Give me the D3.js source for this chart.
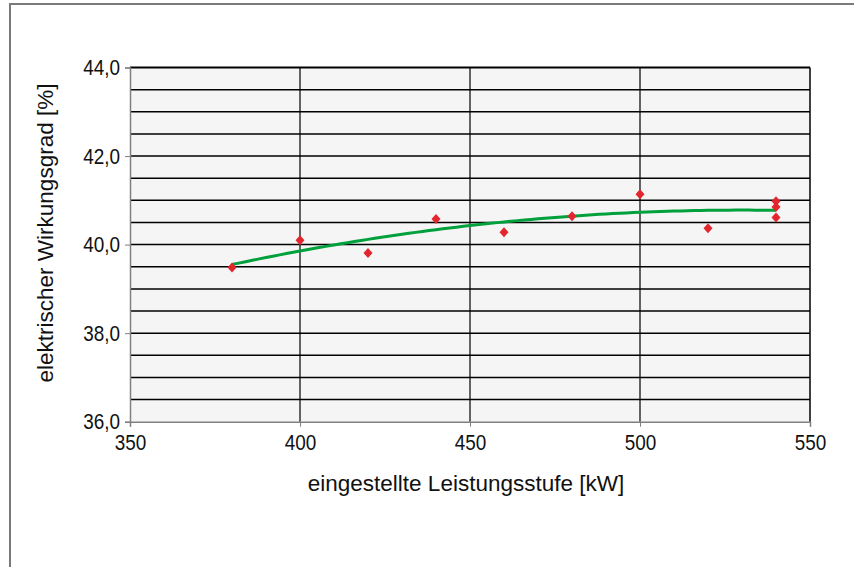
<!DOCTYPE html>
<html><head><meta charset="utf-8">
<script src="https://cdn.jsdelivr.net/npm/d3@7"></script>
<style>body{margin:0;background:#fff}svg{display:block}text{font-family:"Liberation Sans",Arial,sans-serif;fill:#111}
.ylab{transform-box:fill-box;transform-origin:right center;transform:scaleX(0.86)}
.xlab{transform-box:fill-box;transform-origin:center center;transform:scaleX(0.86)}</style>
</head><body>
<script>
const leistung = [380, 400, 420, 440, 460, 480, 500, 520, 540, 540, 540];
const wirkungsgrad = [39.48, 40.10, 39.81, 40.58, 40.28, 40.64, 41.14, 40.37, 40.98, 40.85, 40.61];
const xTicks = [350, 400, 450, 500, 550];
const yTicks = [36, 38, 40, 42, 44];
const yGrid = d3.range(36, 44.01, 0.5);

const W = 854, H = 567;
const svg = d3.select("body").append("svg").attr("width", W).attr("height", H);
const L = 130, R = 810, T = 67.5, B = 421.7;
const x = d3.scaleLinear().domain([350, 550]).range([L, R]);
const y = d3.scaleLinear().domain([36, 44]).range([B, T]);

// outer frame
svg.append("path").attr("d", `M10,${H+5}V4H${W+5}`).attr("fill","none").attr("stroke","#7a7a7a").attr("stroke-width",2);

svg.append("rect").attr("x", L).attr("y", T).attr("width", R-L).attr("height", B-T).attr("fill", "#f5f5f5");

// horizontal grid
svg.append("g").selectAll("line").data(yGrid.filter(v => v > 36)).join("line")
  .attr("x1", L).attr("x2", R).attr("y1", d => y(d)).attr("y2", d => y(d))
  .attr("stroke", "#000").attr("stroke-width", d => d === 44 ? 2 : 1.5);
// vertical grid
svg.append("g").selectAll("line").data(xTicks.filter(v => v > 350)).join("line")
  .attr("x1", d => x(d)).attr("x2", d => x(d)).attr("y1", T).attr("y2", B)
  .attr("stroke", "#000").attr("stroke-width", d => d === 550 ? 1.5 : 1.2);

// axes
const yAxis = d3.axisLeft(y).tickValues(yTicks).tickSize(5).tickPadding(5)
  .tickFormat(d => d3.format(".1f")(d).replace(".", ","));
const gy = svg.append("g").attr("transform", `translate(${L},0)`).call(yAxis);
gy.select(".domain").attr("stroke", "#808080").attr("stroke-width", 1.5);
gy.selectAll(".tick line").attr("stroke", "#808080");
gy.selectAll("text").attr("class", "ylab").style("font-size", "22px").style("font-family", '"Liberation Sans",Arial,sans-serif').attr("fill", "#111");

const xAxis = d3.axisBottom(x).tickValues(xTicks).tickSize(5).tickPadding(8).tickFormat(d3.format("d"));
const gx = svg.append("g").attr("transform", `translate(0,${B})`).call(xAxis);
gx.select(".domain").attr("stroke", "#808080").attr("stroke-width", 1.5);
gx.selectAll(".tick line").attr("stroke", "#808080");
gx.selectAll("text").attr("class", "xlab").style("font-size", "22px").style("font-family", '"Liberation Sans",Arial,sans-serif').attr("fill", "#111");

// quadratic least-squares trendline from the data
function quadFit(xs, ys) {
  let S = [0,0,0,0,0], Sy = [0,0,0];
  xs.forEach((xv, i) => { for (let k = 0; k < 5; k++) S[k] += Math.pow(xv, k); for (let k = 0; k < 3; k++) Sy[k] += Math.pow(xv, k) * ys[i]; });
  const M = [[S[0],S[1],S[2],Sy[0]],[S[1],S[2],S[3],Sy[1]],[S[2],S[3],S[4],Sy[2]]];
  for (let i = 0; i < 3; i++) { for (let j = i+1; j < 3; j++) { const f = M[j][i]/M[i][i]; for (let k = i; k < 4; k++) M[j][k] -= f*M[i][k]; } }
  const c = [0,0,0];
  for (let i = 2; i >= 0; i--) { let s = M[i][3]; for (let k = i+1; k < 3; k++) s -= M[i][k]*c[k]; c[i] = s/M[i][i]; }
  return c;
}
const us = leistung.map(v => (v - 460) / 20);
const coef = quadFit(us, wirkungsgrad);
const xs = d3.range(d3.min(leistung), d3.max(leistung) + 0.1, 2);
const curve = xs.map(v => { const u = (v - 460) / 20; return [v, coef[0] + coef[1]*u + coef[2]*u*u]; });
svg.append("path").datum(curve)
  .attr("d", d3.line().x(d => x(d[0])).y(d => y(d[1])))
  .attr("fill", "none").attr("stroke", "#00a03c").attr("stroke-width", 3);

// markers
svg.append("g").selectAll("path").data(leistung.map((v, i) => [v, wirkungsgrad[i]])).join("path")
  .attr("d", "M0,-5L4.5,0L0,5L-4.5,0Z")
  .attr("transform", d => `translate(${x(d[0])},${y(d[1])})`)
  .attr("fill", "#e3262e");

// titles
svg.append("text").attr("x", 466).attr("y", 491).attr("text-anchor", "middle")
  .style("font-size", "22.5px").text("eingestellte Leistungsstufe [kW]");
svg.append("text").attr("transform", "translate(53,233) rotate(-90)").attr("text-anchor", "middle")
  .style("font-size", "22.5px").text("elektrischer Wirkungsgrad [%]");
</script>
</body></html>
